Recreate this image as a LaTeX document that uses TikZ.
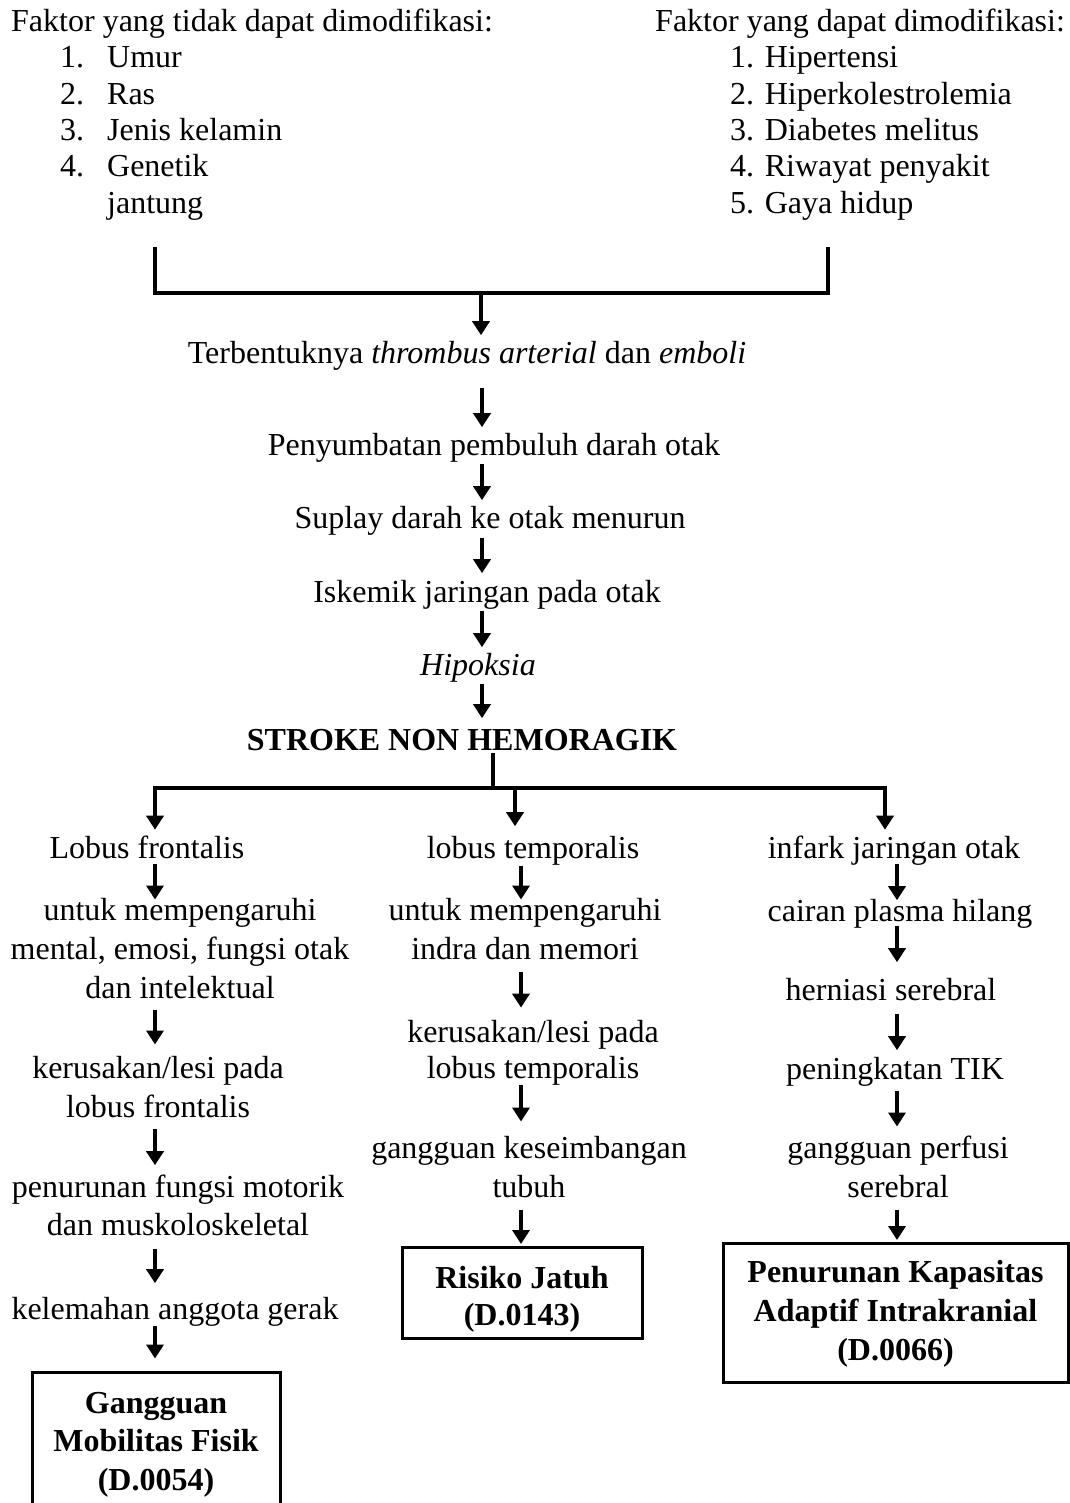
\documentclass[tikz,border=0pt]{standalone}
\usepackage{fontspec}
\setmainfont{Liberation Serif}
\usetikzlibrary{arrows.meta}
\newcommand\blk[2][38]{{\fontsize{32}{#1}\selectfont\begin{tabular}[t]{@{}c@{}}#2\end{tabular}}}
\tikzset{
  tx/.style={inner sep=0pt, anchor=base, font=\fontsize{32}{38}\selectfont},
  txw/.style={inner sep=0pt, anchor=base west, font=\fontsize{32}{38}\selectfont},
  arr/.style={line width=4.5pt, -{Triangle[width=17pt,length=14pt]}},
  brk/.style={line width=4.5pt},
  dx/.style={draw, line width=3pt, inner sep=0pt, anchor=base, font=\fontsize{32}{38}\selectfont\bfseries},
}
\begin{document}
\begin{tikzpicture}[x=1pt,y=-1pt]
\fill[white] (0,0) rectangle (1069,1503);
\useasboundingbox (0,0) rectangle (1069,1503);

% top factor lists
\node[txw] (hL) at (11,32) {Faktor yang tidak dapat dimodifikasi:};
\node[txw] (lL) at (60,68) {\fontsize{32}{36.3}\selectfont\begin{tabular}[t]{@{}l@{\hspace{23pt}}l@{}}1.&Umur\\2.&Ras\\3.&Jenis kelamin\\4.&Genetik\\&jantung\end{tabular}};
\node[txw] (hR) at (655,32) {Faktor yang dapat dimodifikasi:};
\node[txw] (lR) at (730,68) {\fontsize{32}{36.3}\selectfont\begin{tabular}[t]{@{}l@{}}1. Hipertensi\\2. Hiperkolestrolemia\\3. Diabetes melitus\\4. Riwayat penyakit\\5. Gaya hidup\end{tabular}};

% main chain
\node[tx] (t1) at (467,363) {\blk{Terbentuknya \textit{thrombus arterial} dan \textit{emboli}}};
\node[tx] (t2) at (494,455) {\blk{Penyumbatan pembuluh darah otak}};
\node[tx] (t3) at (490,528) {\blk{Suplay darah ke otak menurun}};
\node[tx] (t4) at (487,602) {\blk{Iskemik jaringan pada otak}};
\node[tx] (t5) at (478,675) {\blk{\textit{Hipoksia}}};
\node[tx] (t6) at (462,750) {\blk{\textbf{STROKE NON HEMORAGIK}}};

% left column
\node[tx] (lf) at (147,858) {\blk{Lobus frontalis}};
\node[tx] (l2) at (180,920) {\blk[39]{untuk mempengaruhi\hspace{28pt}\\mental, emosi, fungsi otak\\dan intelektual}};
\node[tx] (l3) at (158,1078) {\blk[39]{kerusakan/lesi pada\\lobus frontalis}};
\node[tx] (l4) at (178,1197) {\blk{penurunan fungsi motorik\\dan muskoloskeletal\hspace{34pt}}};
\node[tx] (l5) at (175,1319) {\blk{kelemahan anggota gerak}};
\node[dx, minimum width=248pt] (lbx) at (156,1413) {\blk[38.5]{\rule{0pt}{41pt}Gangguan\\Mobilitas Fisik\\(D.0054)\rule[-30pt]{0pt}{30pt}}};

% middle column
\node[tx] (mt) at (533,858) {\blk{lobus temporalis}};
\node[tx] (m2) at (525,920) {\blk[39]{untuk mempengaruhi\\indra dan memori}};
\node[tx] (m3) at (533,1042) {\blk[36]{kerusakan/lesi pada\\lobus temporalis}};
\node[tx] (m4) at (529,1158) {\blk[39]{gangguan keseimbangan\\tubuh\hspace{18pt}}};
\node[dx, minimum width=240pt] (mbx) at (522,1288) {\blk[37]{\rule{0pt}{41pt}Risiko Jatuh\\(D.0143)\rule[-13pt]{0pt}{13pt}}};

% right column
\node[tx] (rt) at (894,858) {\blk{infark jaringan otak}};
\node[tx] (r2) at (900,921) {\blk{cairan plasma hilang}};
\node[tx] (r3) at (891,1000) {\blk{herniasi serebral}};
\node[tx] (r4) at (895,1079) {\blk{peningkatan TIK}};
\node[tx] (r5) at (898,1158) {\blk[39]{gangguan perfusi\\serebral}};
\node[dx, minimum width=345pt] (rbx) at (895.5,1282) {\blk[39]{\rule{0pt}{39pt}Penurunan Kapasitas\\Adaptif Intrakranial\\(D.0066)\rule[-22pt]{0pt}{22pt}}};

% column coordinates
\coordinate (cM) at (482,0);
\coordinate (cL) at (155,0);
\coordinate (cC) at (521,0);
\coordinate (cR) at (897,0);

% bracket
\coordinate (bL) at (155,247);
\coordinate (bR) at (828,247);
\coordinate (jn) at (481,293);
\draw[brk] (bL) -- (bL |- jn) -- (bR |- jn) -- (bR);
\draw[arr, shorten >=1pt] (jn) -- (t1.north -| jn);

% main arrows
\draw[arr, shorten <=13pt, shorten >=1pt] (t1.south -| cM) -- (t2.north -| cM);
\draw[arr, shorten <=-3pt, shorten >=1pt] (t2.south -| cM) -- (t3.north -| cM);
\draw[arr, shorten <=-2pt, shorten >=2pt] (t3.south -| cM) -- (t4.north -| cM);
\draw[arr, shorten <=-3pt, shorten >=1pt] (t4.south -| cM) -- (t5.north -| cM);
\draw[arr, shorten <=-3pt, shorten >=5pt] (t5.south -| cM) -- (t6.north -| cM);

% branch
\coordinate (sv) at (493,788);
\coordinate (hl) at (155,788);
\coordinate (hm) at (515,788);
\coordinate (hr) at (885,788);
\draw[brk, shorten <=-9pt] (t6.south -| sv) -- (sv);
\draw[brk, line cap=rect] (hl) -- (hr);
\draw[arr, shorten >=1.5pt] (hl) -- (lf.north -| hl);
\draw[arr, shorten >=5pt] (hm) -- (mt.north -| hm);
\draw[arr, shorten >=1.5pt] (hr) -- (rt.north -| hr);

% left arrows
\draw[arr, shorten <=-6pt, shorten >=-7pt] (lf.south -| cL) -- (l2.north -| cL);
\draw[arr, shorten >=6pt] (l2.south -| cL) -- (l3.north -| cL);
\draw[arr, shorten >=5pt] (l3.south -| cL) -- (l4.north -| cL);
\draw[arr, shorten <=2pt, shorten >=9pt] (l4.south -| cL) -- (l5.north -| cL);
\draw[arr, shorten <=-5pt, shorten >=12pt] (l5.south -| cL) -- (lbx.north -| cL);

% middle arrows
\draw[arr, shorten <=-4pt, shorten >=-7pt] (mt.south -| cC) -- (m2.north -| cC);
\draw[arr, shorten <=1pt, shorten >=9pt] (m2.south -| cC) -- (m3.north -| cC);
\draw[arr, shorten <=-4pt, shorten >=9pt] (m3.south -| cC) -- (m4.north -| cC);
\draw[arr, shorten <=1pt, shorten >=1.5pt] (m4.south -| cC) -- (mbx.north -| cC);

% right arrows
\draw[arr, shorten <=-6pt, shorten >=-6pt] (rt.south -| cR) -- (r2.north -| cR);
\draw[arr, shorten <=-7pt, shorten >=11pt] (r2.south -| cR) -- (r3.north -| cR);
\draw[arr, shorten <=2pt, shorten >=2pt] (r3.south -| cR) -- (r4.north -| cR);
\draw[arr, shorten >=4pt] (r4.south -| cR) -- (r5.north -| cR);
\draw[arr, shorten <=1pt, shorten >=1.5pt] (r5.south -| cR) -- (rbx.north -| cR);
\end{tikzpicture}
\end{document}
